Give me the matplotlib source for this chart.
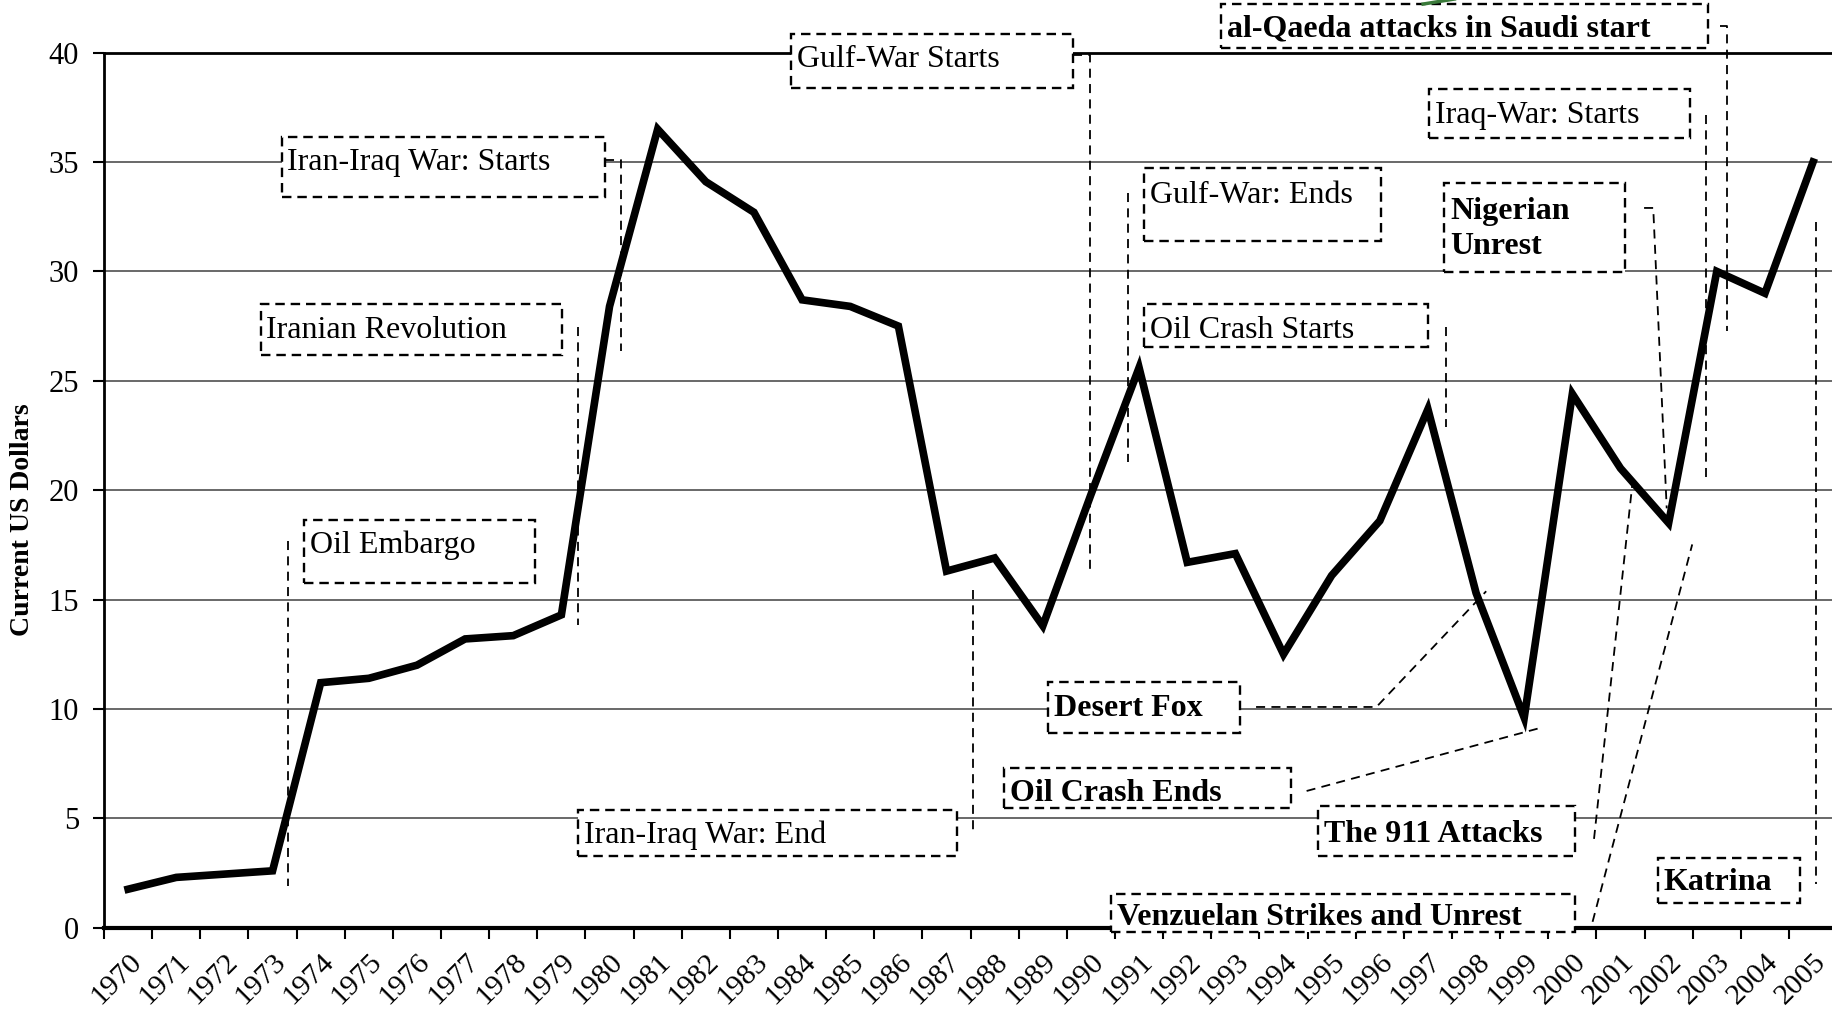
import matplotlib
matplotlib.use("Agg")
import matplotlib.pyplot as plt
from matplotlib.patches import Rectangle
import numpy as np

plt.rcParams['font.family'] = ['Liberation Serif', 'DejaVu Serif']

years = list(range(1970, 2006))
price = [1.76, 2.3, 2.45, 2.6, 11.2, 11.4, 12.0, 13.2, 13.35, 14.3,
         28.4, 36.5, 34.1, 32.7, 28.7, 28.4, 27.5, 16.3, 16.9, 13.8,
         19.8, 25.6, 16.7, 17.1, 12.5, 16.1, 18.6, 23.7, 15.3, 9.6,
         24.4, 21.0, 18.5, 30.0, 29.0, 35.0]

# events: text, bold, box (x0, x1, ybottom, ytop), text y
events = [
    ("Gulf-War Starts", False, (13.77, 19.62, 38.40, 40.85), 39.68),
    ("al-Qaeda attacks in Saudi start", True, (22.70, 32.82, 40.21, 42.2), 41.07),
    ("Iran-Iraq War: Starts", False, (3.19, 9.91, 33.38, 36.15), 34.98),
    ("Iranian Revolution", False, (2.75, 9.01, 26.17, 28.52), 27.29),
    ("Oil Embargo", False, (3.65, 8.46, 15.75, 18.64), 17.46),
    ("Gulf-War: Ends", False, (21.10, 26.03, 31.40, 34.71), 33.49),
    ("Oil Crash Starts", False, (21.10, 27.00, 26.54, 28.52), 27.29),
    ("Iraq-War: Starts", False, (27.02, 32.44, 36.10, 38.34), 37.12),
    ("Nigerian\nUnrest", True, (27.34, 31.10, 29.96, 34.02), 31.94),
    ("Desert Fox", True, (19.11, 23.09, 8.92, 11.21), 10.04),
    ("Oil Crash Ends", True, (18.19, 24.16, 5.45, 7.32), 6.14),
    ("Iran-Iraq War: End", False, (9.35, 17.22, 3.26, 5.39), 4.22),
    ("The 911 Attacks", True, (24.72, 30.06, 3.26, 5.55), 4.27),
    ("Venzuelan Strikes and Unrest", True, (20.42, 30.06, -0.21, 1.55), 0.48),
    ("Katrina", True, (31.78, 34.72, 1.12, 3.20), 2.08),
]

# leader lines (x list, y list)
leaders = [
    ([3.32, 3.32], [17.68, 1.92]),
    ([9.35, 9.35], [27.45, 13.83]),
    ([9.91, 10.23, 10.23], [35.09, 35.09, 26.38]),
    ([19.62, 19.98, 19.98], [39.89, 39.89, 16.23]),
    ([20.76, 20.76], [33.59, 21.31]),
    ([17.56, 17.56], [15.43, 4.22]),
    ([27.37, 27.37], [27.45, 22.91]),
    ([32.78, 32.78], [37.17, 20.51]),
    ([33.07, 33.21, 33.21], [41.23, 41.23, 27.29]),
    ([31.49, 31.68, 31.96], [32.90, 32.90, 19.17]),
    ([35.06, 35.06], [32.26, 1.98]),
    ([23.43, 25.93, 28.21], [10.09, 10.09, 15.38]),
    ([24.48, 29.33], [6.25, 9.13]),
    ([30.45, 31.27], [4.06, 20.77]),
    ([30.42, 32.49], [0.27, 17.52]),
]

fig = plt.figure(figsize=(18.32, 10.14), dpi=100)
ax = fig.add_axes([0.0568, 0.0851, 0.946, 0.863])

x = np.arange(len(years))
ax.set_xlim(-0.5, len(years) - 0.5)
ax.set_ylim(0, 40)

ax.set_yticks(np.arange(0, 41, 5))
for v in np.arange(5, 40, 5):
    ax.axhline(v, color='#404040', lw=1.1, zorder=1)

ax.plot(x, price, color='black', lw=5.5, solid_joinstyle='miter', zorder=3)

for xs, ys in leaders:
    ax.plot(xs, ys, color='black', lw=1.3, dashes=(5, 3.5), zorder=4,
            clip_on=False)

# small green fragment above the al-Qaeda box
ax.plot([26.9, 27.55], [42.22, 42.45], color='#3a7a3a', lw=2.5, zorder=7,
        clip_on=False)

for label, bold, (x0, x1, y0, y1), ty in events:
    r = Rectangle((x0, y0), x1 - x0, y1 - y0, facecolor='white',
                  edgecolor='black', lw=1.7, linestyle=(0, (4, 2.5)),
                  zorder=5, clip_on=False)
    ax.add_patch(r)
    ax.text(x0 + 0.12, ty, label, fontsize=23,
            fontweight='bold' if bold else 'normal', ha='left', va='center',
            zorder=6, clip_on=False, linespacing=1.3)

ax.set_xticks(np.arange(-0.5, len(years), 1))
ax.set_xticklabels([])
ax.set_xticks(x, minor=True)
ax.set_xticklabels([str(y) for y in years], minor=True, rotation=45,
                   ha='right', rotation_mode='anchor', fontsize=21.5)
ax.tick_params(axis='x', which='major', direction='out', length=8, width=1.5)
ax.tick_params(axis='x', which='minor', length=0, pad=15)
ax.tick_params(axis='y', direction='out', length=8, width=1.5, labelsize=22, pad=10)

ax.set_ylabel("Current US Dollars", fontsize=20, fontweight='bold')
ax.yaxis.set_label_coords(-0.040, 0.466)

ax.spines['right'].set_visible(False)
ax.spines['left'].set_linewidth(2)
ax.spines['top'].set_linewidth(2)
ax.spines['bottom'].set_linewidth(3)

fig.savefig("out.png", dpi=100)
